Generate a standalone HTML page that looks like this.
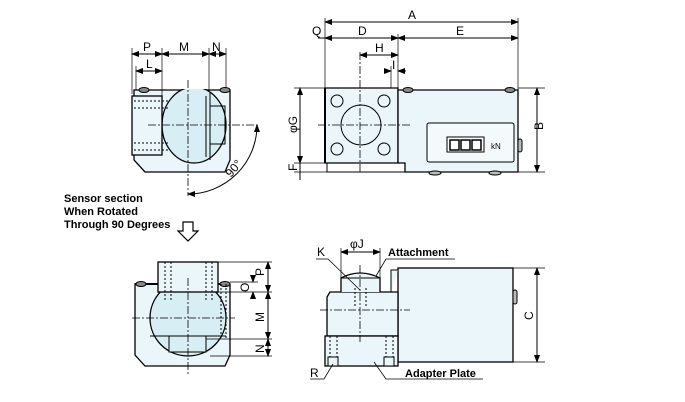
<!DOCTYPE html>
<html><head><style>
html,body{margin:0;padding:0;background:#fff;width:685px;height:402px;overflow:hidden}
svg text{font-family:"Liberation Sans",Arial,sans-serif;fill:#000}
</style></head><body>
<svg width="685" height="402" viewBox="0 0 685 402" xmlns="http://www.w3.org/2000/svg">
<defs>
<marker id="a" markerWidth="8" markerHeight="6" refX="7" refY="3" orient="auto-start-reverse" markerUnits="userSpaceOnUse"><path d="M0,0 L8,3 L0,6 z" fill="#000"/></marker>
<clipPath id="c1"><rect x="162" y="89" width="70" height="84"/></clipPath>
<clipPath id="c2"><rect x="135" y="284" width="95" height="83"/></clipPath>
</defs>
<g stroke="#000" stroke-width="1" fill="none">
<!-- ===== Top-left view ===== -->
<path d="M134,90 L230,90 L230,160 L225,172 L145,172 L134,160 Z" fill="#eaf6fa" stroke-width="1.3"/>
<ellipse cx="194" cy="125" rx="32" ry="38" fill="#d8eef5" stroke-width="1.3" clip-path="url(#c1)"/>
<rect x="132" y="96" width="30" height="59" fill="#eaf6fa" stroke-width="1.3"/>
<line x1="206" y1="96" x2="206" y2="157"/>
<line x1="210" y1="92" x2="210" y2="160"/>
<rect x="210" y="106" width="15" height="38" fill="none"/>
<ellipse cx="144" cy="90" rx="5" ry="2.5" fill="#888"/>
<ellipse cx="225" cy="90" rx="5" ry="2.5" fill="#888"/>
<g stroke-dasharray="2,2"><line x1="134" y1="101" x2="168" y2="101"/><line x1="134" y1="108" x2="168" y2="108"/><line x1="134" y1="143" x2="168" y2="143"/><line x1="134" y1="150" x2="168" y2="150"/></g>
<g stroke-dasharray="8,2,2,2" stroke-width="0.8"><line x1="188" y1="80" x2="188" y2="196"/><line x1="148" y1="125" x2="260" y2="125"/></g>
<g stroke-width="0.7"><line x1="132" y1="48" x2="132" y2="94"/><line x1="136" y1="66" x2="136" y2="90"/><line x1="162" y1="48" x2="162" y2="96"/><line x1="209" y1="48" x2="209" y2="90"/><line x1="226" y1="48" x2="226" y2="88"/></g>
<line x1="132" y1="54" x2="162" y2="54" marker-start="url(#a)" marker-end="url(#a)"/>
<line x1="162" y1="54" x2="209" y2="54" marker-start="url(#a)" marker-end="url(#a)"/>
<line x1="209" y1="54" x2="226" y2="54" marker-start="url(#a)" marker-end="url(#a)"/>
<line x1="136" y1="71" x2="162" y2="71" marker-start="url(#a)" marker-end="url(#a)"/>
<path d="M257,125 A69,69 0 0,1 188,194" marker-end="url(#a)" marker-start="url(#a)"/>
<!-- ===== Top-right view ===== -->
<path d="M325,88 L398,88 L398,163 L325,163 Z" fill="#eaf6fa" stroke-width="1.3"/>
<path d="M398,90 L518,90 L518,172 L405,172 L405,163 L398,163 Z" fill="#eaf6fa" stroke-width="1.3"/>
<path d="M327,163 L327,172 L405,172" />
<line x1="325" y1="88" x2="325" y2="163" stroke-width="2"/>
<ellipse cx="408" cy="90" rx="5" ry="2.5" fill="#888"/>
<ellipse cx="510" cy="90" rx="5" ry="2.5" fill="#888"/>
<circle cx="337" cy="101" r="6"/><circle cx="384" cy="101" r="6"/><circle cx="337" cy="149" r="6"/><circle cx="384" cy="149" r="6"/>
<circle cx="361" cy="125" r="20"/>
<rect x="427" y="123" width="87" height="39" rx="2" fill="#f4fafc"/>
<rect x="447" y="137" width="37" height="15" fill="#fff"/>
<rect x="450" y="140" width="9" height="10" stroke-width="1.5"/><rect x="461" y="140" width="9" height="10" stroke-width="1.5"/><rect x="472" y="140" width="9" height="10" stroke-width="1.5"/>
<rect x="518" y="139" width="4" height="13" rx="2" fill="#bbb"/>
<ellipse cx="435" cy="173" rx="6" ry="2" fill="#bbb"/><ellipse cx="495" cy="173" rx="6" ry="2" fill="#bbb"/>
<g stroke-dasharray="8,2,2,2" stroke-width="0.8"><line x1="360" y1="52" x2="360" y2="172"/><line x1="318" y1="125" x2="412" y2="125"/></g>
<g stroke-width="0.7"><line x1="325" y1="18" x2="325" y2="88"/><line x1="518" y1="18" x2="518" y2="90"/><line x1="398" y1="34" x2="398" y2="88"/><line x1="391" y1="66" x2="391" y2="88"/>
<line x1="294" y1="88" x2="325" y2="88"/><line x1="294" y1="163" x2="325" y2="163"/><line x1="294" y1="172" x2="327" y2="172"/><line x1="518" y1="88" x2="545" y2="88"/><line x1="518" y1="172" x2="545" y2="172"/></g>
<line x1="325" y1="22" x2="518" y2="22" marker-start="url(#a)" marker-end="url(#a)"/>
<line x1="325" y1="38" x2="398" y2="38" marker-start="url(#a)" marker-end="url(#a)"/>
<line x1="398" y1="38" x2="518" y2="38" marker-start="url(#a)" marker-end="url(#a)"/>
<line x1="360" y1="55" x2="398" y2="55" marker-start="url(#a)" marker-end="url(#a)"/>
<line x1="384" y1="71" x2="391" y2="71" marker-end="url(#a)"/><line x1="406" y1="71" x2="398" y2="71" marker-end="url(#a)"/>
<line x1="318" y1="38" x2="325" y2="38"/>
<line x1="300" y1="88" x2="300" y2="163" marker-start="url(#a)" marker-end="url(#a)"/>
<line x1="300" y1="163" x2="300" y2="180"/>
<line x1="537" y1="88" x2="537" y2="172" marker-start="url(#a)" marker-end="url(#a)"/>
<!-- arrow -->
<path d="M183,222 L193,222 L193,231 L198,231 L188,241 L178,231 L183,231 Z" fill="#fff" stroke-width="1.2"/>
<!-- ===== Bottom-left view ===== -->
<path d="M135,284 L230,284 L230,355 L225,366 L145,366 L135,355 Z" fill="#eaf6fa" stroke-width="1.3"/>
<line x1="135" y1="284" x2="230" y2="284" stroke-width="2"/>
<ellipse cx="188" cy="318" rx="38" ry="38" fill="#d8eef5" stroke-width="1.3" clip-path="url(#c2)"/>
<rect x="158" y="262" width="60" height="30" fill="#eaf6fa" stroke-width="1.3"/>
<line x1="150" y1="336" x2="226" y2="336"/>
<rect x="169" y="336" width="37" height="16" fill="#d8eef5"/>
<ellipse cx="141" cy="284" rx="5" ry="2.5" fill="#888"/><ellipse cx="225" cy="284" rx="5" ry="2.5" fill="#888"/>
<g stroke-dasharray="2,2"><line x1="165" y1="262" x2="165" y2="300"/><line x1="171" y1="262" x2="171" y2="300"/><line x1="206" y1="262" x2="206" y2="300"/><line x1="212" y1="262" x2="212" y2="300"/><line x1="221" y1="284" x2="221" y2="340"/><line x1="226" y1="284" x2="226" y2="340"/></g>
<g stroke-dasharray="8,2,2,2" stroke-width="0.8"><line x1="188" y1="278" x2="188" y2="375"/><line x1="132" y1="318" x2="235" y2="318"/></g>
<g stroke-width="0.7"><line x1="218" y1="262" x2="272" y2="262"/><line x1="230" y1="282" x2="258" y2="282"/><line x1="218" y1="292" x2="272" y2="292"/><line x1="206" y1="339" x2="272" y2="339"/><line x1="210" y1="356" x2="272" y2="356"/></g>
<line x1="268" y1="262" x2="268" y2="292" marker-start="url(#a)" marker-end="url(#a)"/>
<line x1="268" y1="292" x2="268" y2="339" marker-start="url(#a)" marker-end="url(#a)"/>
<line x1="268" y1="339" x2="268" y2="356" marker-start="url(#a)" marker-end="url(#a)"/>
<line x1="253" y1="276" x2="253" y2="282" marker-end="url(#a)"/><line x1="253" y1="298" x2="253" y2="292" marker-end="url(#a)"/>
<!-- ===== Bottom-right view ===== -->
<rect x="398" y="268" width="115" height="94" fill="#eaf6fa" stroke-width="1.3"/>
<rect x="513" y="290" width="4" height="14" rx="2" fill="#bbb"/>
<path d="M391,292 L391,270 L398,270" fill="#eaf6fa"/>
<path d="M327,297 L330,292 L398,292 L398,336 L327,336 Z" fill="#eaf6fa" stroke-width="1.3"/>
<path d="M341,292 L341,278 Q360,268 380,278 L380,292" fill="#eaf6fa" stroke-width="1.3"/>
<line x1="341" y1="278" x2="380" y2="278"/>
<rect x="325" y="336" width="73" height="30" fill="#eaf6fa" stroke-width="1.3"/>
<g stroke-dasharray="2,2"><line x1="355" y1="288" x2="355" y2="308"/><line x1="366" y1="288" x2="366" y2="308"/><line x1="330" y1="336" x2="330" y2="360"/><line x1="337" y1="336" x2="337" y2="360"/><line x1="386" y1="336" x2="386" y2="360"/><line x1="393" y1="336" x2="393" y2="360"/></g>
<rect x="328" y="357" width="10" height="9" fill="#eaf6fa"/><rect x="384" y="357" width="10" height="9" fill="#eaf6fa"/>
<g stroke-dasharray="8,2,2,2" stroke-width="0.8"><line x1="360" y1="265" x2="360" y2="342"/><line x1="320" y1="310" x2="410" y2="310"/></g>
<g stroke-width="0.7"><line x1="341" y1="248" x2="341" y2="280"/><line x1="380" y1="248" x2="380" y2="280"/><line x1="513" y1="268" x2="545" y2="268"/><line x1="513" y1="362" x2="545" y2="362"/></g>
<line x1="341" y1="252" x2="380" y2="252" marker-start="url(#a)" marker-end="url(#a)"/>
<line x1="537" y1="268" x2="537" y2="362" marker-start="url(#a)" marker-end="url(#a)"/>
<polyline points="316,259 328,259 360,290" stroke-width="0.8"/>
<polyline points="455,259 386,259 376,276" stroke-width="0.8"/>
<polyline points="310,379 324,379 333,364" stroke-width="0.8"/>
<polyline points="483,379 386,379 374,362" stroke-width="0.8"/>
</g>
<!-- labels -->
<g font-size="12">
<text x="143" y="51">P</text><text x="179" y="51">M</text><text x="212" y="51">N</text><text x="146" y="68">L</text>
<text x="408" y="19">A</text><text x="312" y="35">Q</text><text x="358" y="35">D</text><text x="456" y="35">E</text><text x="375" y="52">H</text><text x="392" y="69">I</text>
<text transform="translate(543,130) rotate(-90)">B</text>
<text transform="translate(297,133) rotate(-90)">φG</text>
<text transform="translate(297,171) rotate(-90)">F</text>
<text transform="translate(231,178) rotate(-50)">90°</text>
<text transform="translate(264,276) rotate(-90)">P</text>
<text transform="translate(249,292) rotate(-90)">O</text>
<text transform="translate(264,322) rotate(-90)">M</text>
<text transform="translate(264,353) rotate(-90)">N</text>
<text transform="translate(533,320) rotate(-90)">C</text>
<text x="350" y="248">φJ</text><text x="317" y="256">K</text><text x="310" y="377">R</text>
</g>
<g font-size="11" font-weight="bold">
<text x="388" y="256">Attachment</text>
<text x="405" y="377">Adapter Plate</text>
<text x="64" y="202">Sensor section</text>
<text x="64" y="215">When Rotated</text>
<text x="64" y="228">Through 90 Degrees</text>
</g>
<text x="491" y="149" font-size="8">kN</text>
</svg>
</body></html>
